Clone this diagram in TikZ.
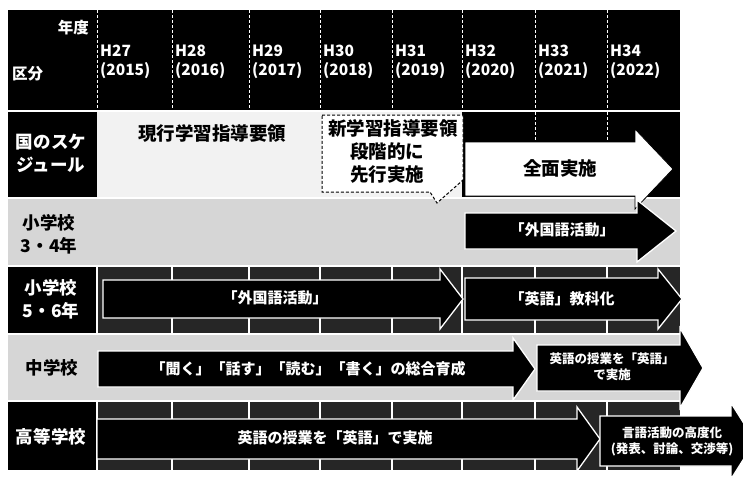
\documentclass[tikz,border=0pt]{standalone}
\usepackage{fontspec}
\setmainfont{Noto Sans CJK JP}
\usepackage{tikz}
\usetikzlibrary{positioning}

\tikzset{
  hdr/.style={text=white, font=\bfseries\fontsize{15.5}{19}\selectfont, align=left, anchor=west, inner sep=0pt},
  lbl/.style={font=\bfseries\fontsize{17.5}{23}\selectfont, align=center, inner sep=0pt},
  bigtxt/.style={font=\bfseries\fontsize{18.5}{23}\selectfont, align=center, inner sep=0pt},
  bartxt/.style={text=white, font=\bfseries\fontsize{15}{17}\selectfont, align=center, inner sep=0pt},
  smalltxt/.style={text=white, font=\bfseries\fontsize{12.5}{16}\selectfont, align=center, inner sep=0pt},
  gridline/.style={white, densely dashed, line width=0.8pt},
  cellline/.style={white, line width=1.5pt},
  blackbar/.style={fill=black, draw=white, line width=1.3pt, line join=miter},
  whitebar/.style={fill=white, draw=black, line width=0.8pt},
  callout/.style={fill=white, draw=black, densely dashed, line width=1pt},
}

% bar arrow: [style] x0, head base, tip, y centre, body half, head half
\newcommand{\schedbar}[7][blackbar]{%
  \path[#1] ({#2},{#5-#6}) -- ({#3},{#5-#6}) -- ({#3},{#5-#7}) -- ({#4},{#5})
    -- ({#3},{#5+#7}) -- ({#3},{#5+#6}) -- ({#2},{#5+#6}) -- cycle;}

\begin{document}
\begin{tikzpicture}[x=1pt,y=-1pt]
\useasboundingbox (0,0) rectangle (743,477);

% header
\fill[black] (8,10) rectangle (680,110);
\foreach \x in {97,172,249,320,392,462,535,607}
  \draw[gridline] (\x,10) -- (\x,110);
\node[hdr, anchor=east] (nendo) at (89,28) {年度};
\node[hdr] (kubun) at (12,74) {区分};
\foreach \x/\h/\yr in {97/27/2015,172/28/2016,249/29/2017,320/30/2018,
                       392/31/2019,462/32/2020,535/33/2021,607/34/2022}
  \node[hdr] (h\h) at ({\x+3},62) {H\h\\(\yr)};

% row backgrounds
\fill[black] (8,112) rectangle (97,197);
\fill[black!5] (97,112) rectangle (462,197);
\fill[black] (462,112) rectangle (680,197);
\fill[black!16] (8,199) rectangle (680,265);
\fill[black] (8,267) rectangle (97,333);
\fill[black!85] (97,267) rectangle (680,333);
\fill[black!16] (8,335) rectangle (680,400);
\fill[black] (8,402) rectangle (97,470);
\fill[black!85] (97,402) rectangle (680,470);
\foreach \x in {535,607}
  \draw[gridline] (\x,112) -- (\x,197);
\foreach \x in {97,172,249,320,392,462,535,607} {
  \draw[cellline] (\x,267) -- (\x,333);
  \draw[cellline] (\x,402) -- (\x,470);
}

% row labels
\node[lbl, text=white] (kuni) at (51,153) {国のスケ\\ジュール};
\node[lbl] (sho34) at (49,234) {小学校\\3・4年};
\node[lbl, text=white] (sho56) at (51,299) {小学校\\5・6年};
\node[lbl] (chu) at (52,368) {中学校};
\node[lbl, text=white] (koko) at (51,437) {高等学校};

% national schedule
\node[bigtxt] (genko) at (212,133) {現行学習指導要領};
\draw[callout] (322,115) -- (463,115) -- (463,180) -- (437,203) -- (430,192)
  -- (322,192) -- cycle;
\node[bigtxt] (shin) at (393,128) {新学習指導要領};
\node[bigtxt, below=5pt of shin.south west, anchor=north west, xshift=22pt] (dankai) {段階的に\\先行実施};
\schedbar[whitebar]{465}{635}{673}{169}{27}{40}
\node[bigtxt] (zenmen) at (560,168) {全面実施};

% grades 3-4
\schedbar{465}{637}{676}{231}{18}{31}
\node[bartxt] (gai34) at (562,230) {「外国語活動」};

% grades 5-6
\schedbar{103}{440}{463}{299}{19}{30}
\node[bartxt] (gai56) at (275,298) {「外国語活動」};
\schedbar{465}{658}{682}{299}{21}{30}
\node[bartxt] (kyoka) at (562,299) {「英語」教科化};

% junior high
\schedbar{98}{513}{535}{369}{18}{31}
\node[bartxt] (sogo) at (308,369) {「聞く」「話す」「読む」「書く」の総合育成};
\schedbar{537}{680}{703}{368}{23}{40}
\node[smalltxt] (chueigo) at (612,367) {英語の授業を「英語」\\で実施};

% senior high
\schedbar{97}{577}{600}{439}{20}{32}
\node[bartxt] (koeigo) at (335,438) {英語の授業を「英語」で実施};
\schedbar{600}{731}{755}{441}{25}{38}
\node[smalltxt] (kodo) at (672,441) {言語活動の高度化\\(発表、討論、交渉等)};
\end{tikzpicture}
\end{document}
